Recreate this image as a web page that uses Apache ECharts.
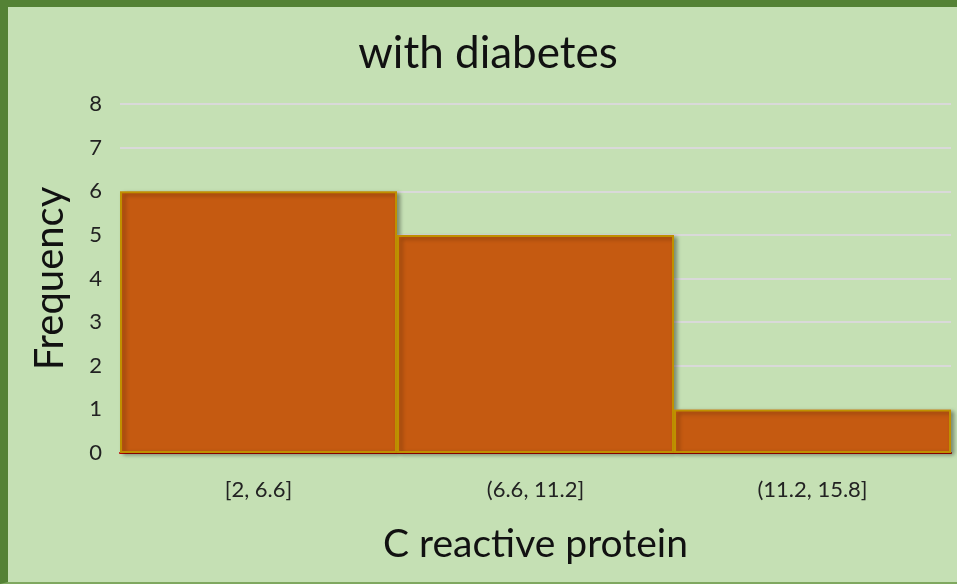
<!DOCTYPE html>
<html>
<head>
<meta charset="utf-8">
<script src="https://cdn.jsdelivr.net/npm/echarts@6/dist/echarts.min.js"></script>
<style>
html,body{margin:0;padding:0;background:#c5e0b4;}
#wrap{position:absolute;left:0;top:0;width:957px;height:584px;box-sizing:border-box;background:#c5e0b4;border-top:7px solid #548235;border-left:8px solid #548235;border-bottom:2px solid #7fa860;}
#chart{position:absolute;left:-8px;top:-7px;width:957px;height:584px;}
</style>
</head>
<body>
<div id="wrap"><div id="chart"></div></div>
<script>
const categories = ['[2, 6.6]', '(6.6, 11.2]', '(11.2, 15.8]'];
const frequency = [6, 5, 1];
const yTicks = [0, 1, 2, 3, 4, 5, 6, 7, 8];

const FONT = 'Lato';
const chart = echarts.init(document.getElementById('chart'), null, {renderer: 'canvas'});
chart.setOption({
  backgroundColor: 'transparent',
  animation: false,
  title: {
    text: 'with diabetes',
    left: 483, top: 27, textAlign: 'center',
    textStyle: {fontFamily: FONT, fontSize: 44, fontWeight: 'normal', color: '#111'}
  },
  grid: {left: 120, right: 6, top: 104, bottom: 131, containLabel: false},
  xAxis: {
    type: 'category',
    data: categories,
    boundaryGap: true,
    name: 'C reactive protein',
    nameLocation: 'middle',
    nameGap: 72,
    nameTextStyle: {fontFamily: FONT, fontSize: 39, color: '#111'},
    axisLine: {show: true, lineStyle: {color: '#c00000', width: 2}},
    axisTick: {show: false},
    axisLabel: {fontFamily: FONT, fontSize: 22, color: '#222', margin: 26}
  },
  yAxis: {
    type: 'value',
    min: yTicks[0], max: yTicks[yTicks.length - 1], interval: 1,
    name: 'Frequency',
    nameLocation: 'middle',
    nameGap: 50,
    nameTextStyle: {fontFamily: FONT, fontSize: 40, color: '#111'},
    axisLine: {show: false},
    axisTick: {show: false},
    axisLabel: {fontFamily: FONT, fontSize: 22, color: '#222', margin: 18},
    splitLine: {show: true, lineStyle: {color: '#d9d9d9', width: 2}}
  },
  series: [{
    type: 'bar',
    data: frequency,
    barWidth: '100%',
    barCategoryGap: 0,
    itemStyle: {
      color: '#c55a11',
      borderColor: '#bf9000',
      borderWidth: 2,
      shadowColor: 'rgba(0,0,0,0.35)',
      shadowBlur: 4,
      shadowOffsetX: 3,
      shadowOffsetY: 2
    }
  }]
});
</script>
</body>
</html>
